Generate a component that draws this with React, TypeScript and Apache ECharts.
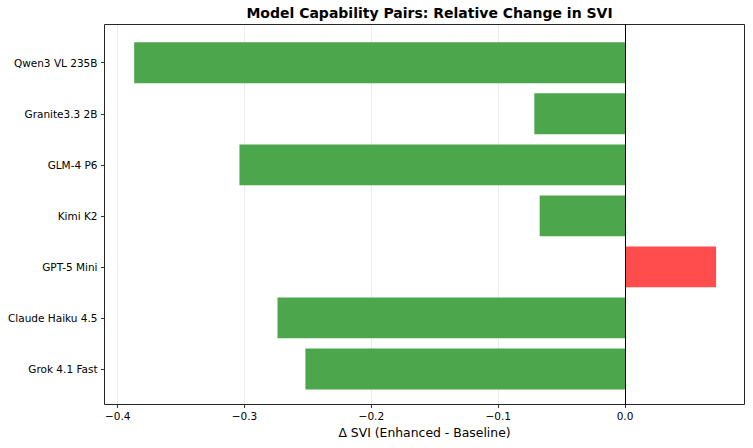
import React, { useEffect, useRef } from "react";
import * as echarts from "echarts";

const models = [
  "Qwen3 VL 235B",
  "Granite3.3 2B",
  "GLM-4 P6",
  "Kimi K2",
  "GPT-5 Mini",
  "Claude Haiku 4.5",
  "Grok 4.1 Fast",
];
const deltaSVI = [-0.387, -0.0715, -0.304, -0.0673, 0.0718, -0.274, -0.252];

const GREEN = "#4ca64c";
const RED = "#ff4d4d";
const FONT = "DejaVu Sans";

const fmt = (v: number) => {
  const s = v.toFixed(1);
  return s.startsWith("-") ? "\u2212" + s.slice(1) : s;
};

export default function App() {
  const ref = useRef<HTMLDivElement>(null);
  useEffect(() => {
    document.body.style.margin = "0";
    if (!ref.current) return;
    const chart = echarts.init(ref.current, undefined, { renderer: "svg" });
    const xMin = -0.4104;
    const xMax = 0.0942;
    chart.setOption({
      animation: false,
      backgroundColor: "#ffffff",
      textStyle: { fontFamily: FONT },
      title: {
        text: "Model Capability Pairs: Relative Change in SVI",
        left: 424.5,
        top: 1,
        textAlign: "center",
        textStyle: { fontFamily: FONT, fontSize: 14, fontWeight: "bold", color: "#000" },
      },
      grid: [
        { left: 104.5, right: 8.5, top: 24.5, bottom: 43.5, show: true, z: 5, borderColor: "#262626", borderWidth: 1, backgroundColor: "transparent" },
        { left: 104.5, right: 8.5, top: 37.2, bottom: 53.5 },
      ],
      xAxis: [
        {
          gridIndex: 0,
          type: "value",
          min: xMin,
          max: xMax,
          splitNumber: 5,
          axisLine: { show: false },
          axisTick: { show: true, inside: false, length: 3.5, lineStyle: { color: "#000", width: 0.8 } },
          axisLabel: {
            fontFamily: FONT,
            fontSize: 10.5,
            color: "#000",
            margin: 6,
            showMinLabel: false,
            showMaxLabel: false,
            formatter: (v: number) => fmt(v),
          },
          splitLine: { show: true, lineStyle: { color: "#e7e7e7", width: 0.8 } },
          name: "\u0394 SVI (Enhanced - Baseline)",
          nameLocation: "middle",
          nameGap: 21,
          nameTextStyle: { fontFamily: FONT, fontSize: 12.4, color: "#000" },
        },
        { gridIndex: 1, type: "value", min: xMin, max: xMax, show: false },
      ],
      yAxis: [
        {
          gridIndex: 0,
          type: "value",
          min: 0,
          max: 1,
          z: 10,
          axisLine: { show: true, onZero: true, lineStyle: { color: "#000", width: 1 } },
          axisTick: { show: false },
          axisLabel: { show: false },
          splitLine: { show: false },
        },
        {
          gridIndex: 1,
          type: "category",
          data: models,
          inverse: true,
          axisLine: { show: false, onZero: false },
          axisTick: { show: true, alignWithLabel: true, length: 3.5, lineStyle: { color: "#000", width: 0.8 } },
          axisLabel: { fontFamily: FONT, fontSize: 10.5, color: "#000", margin: 7 },
          splitLine: { show: false },
        },
      ],
      series: [
        {
          type: "bar",
          xAxisIndex: 1,
          yAxisIndex: 1,
          barWidth: "80%",
          data: deltaSVI.map((v) => ({
            value: v,
            itemStyle: { color: v >= 0 ? RED : GREEN },
          })),
        },
      ],
    });
    return () => chart.dispose();
  }, []);
  return <div ref={ref} style={{ width: 753, height: 448 }} />;
}
